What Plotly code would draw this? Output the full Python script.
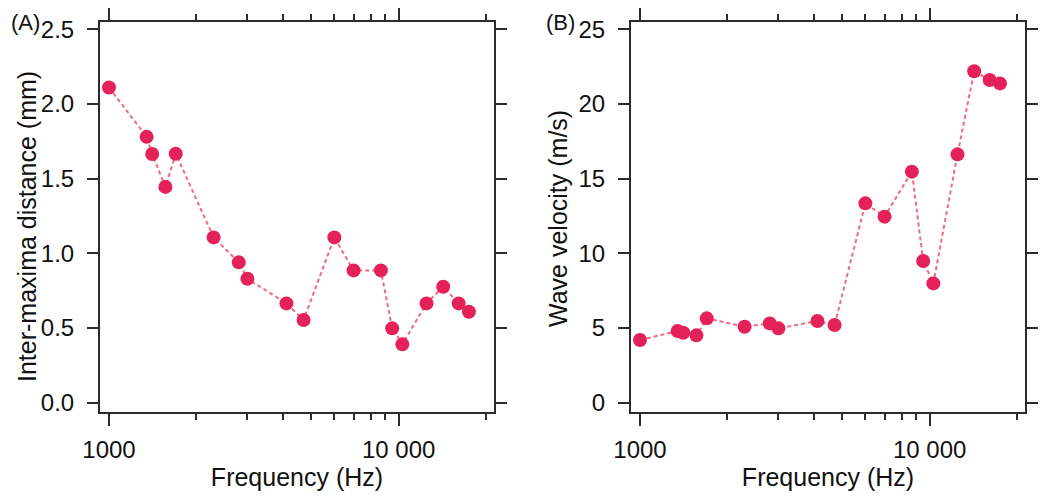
import plotly.graph_objects as go

freq = [1000, 1349, 1410, 1566, 1700, 2297, 2805, 3005, 4098, 4696,
        5998, 6986, 8680, 9496, 10295, 12475, 14243, 16110, 17480]
distance = [2.11, 1.78, 1.665, 1.445, 1.667, 1.107, 0.94, 0.83, 0.665, 0.554,
            1.107, 0.886, 0.886, 0.498, 0.391, 0.665, 0.777, 0.665, 0.609]
velocity = [4.2, 4.8, 4.69, 4.51, 5.65, 5.09, 5.31, 4.98, 5.47, 5.2,
            13.35, 12.46, 15.47, 9.49, 7.99, 16.63, 22.19, 21.61, 21.38]

x_major = [1000, 10000]
x_major_text = ["1000", "10 000"]
x_minor = [2000, 3000, 4000, 5000, 6000, 7000, 8000, 9000, 20000]
yA_ticks = [0.0, 0.5, 1.0, 1.5, 2.0, 2.5]
yA_text = ["0.0", "0.5", "1.0", "1.5", "2.0", "2.5"]
yB_ticks = [0, 5, 10, 15, 20, 25]

MARK = "#e5215a"
LINE = "#f06a84"
AX = "#2b2b2b"
FONT = "Liberation Sans, Arial, sans-serif"

# page body has an 8px margin; figure sized to fit inside the window
OFF = 8
W, H = 1050 - 2 * OFF, 504 - 2 * OFF

def px_x(p):
    return (p - OFF) / W

def px_y(p):
    return 1 - (p - OFF) / H

fig = go.Figure()
fig.add_trace(go.Scatter(x=freq, y=distance, mode="lines+markers",
                         line=dict(color=LINE, width=2, dash="4px,3px"),
                         marker=dict(color=MARK, size=14),
                         xaxis="x", yaxis="y", showlegend=False))
fig.add_trace(go.Scatter(x=freq, y=velocity, mode="lines+markers",
                         line=dict(color=LINE, width=2, dash="4px,3px"),
                         marker=dict(color=MARK, size=14),
                         xaxis="x2", yaxis="y2", showlegend=False))

def xax(domain, anchor):
    return dict(type="log", domain=domain, anchor=anchor,
                range=[2.969, 4.329], showgrid=False, zeroline=False,
                showline=True, linecolor=AX, linewidth=2, mirror="ticks",
                ticks="outside", ticklen=12, tickwidth=2, tickcolor=AX,
                tickmode="array", tickvals=x_major, ticktext=x_major_text,
                tickfont=dict(size=24, color="#111", family=FONT),
                ticklabelstandoff=3,
                minor=dict(tickmode="array", tickvals=x_minor, ticks="outside",
                           ticklen=6, tickwidth=2, tickcolor=AX, showgrid=False),
                title=dict(text="Frequency (Hz)", standoff=7,
                           font=dict(size=25, color="#111", family=FONT)),
                automargin=False)

def yax(domain, anchor, rng, tv, tt):
    return dict(domain=domain, anchor=anchor, range=rng, showgrid=False,
                zeroline=False, showline=True, linecolor=AX, linewidth=2,
                mirror="ticks", ticks="outside", ticklen=11, tickwidth=2,
                tickcolor=AX, tickmode="array", tickvals=tv, ticktext=tt,
                tickfont=dict(size=24, color="#111", family=FONT),
                ticklabelstandoff=8,
                automargin=False)

def label(text, xp, yp, size, angle=0):
    return dict(text=text, x=px_x(xp), y=px_y(yp), xref="paper", yref="paper",
                xanchor="center", yanchor="middle", showarrow=False,
                textangle=angle, font=dict(size=size, color="#111", family=FONT))

ydom = [px_y(412), px_y(22)]
fig.update_layout(
    width=W, height=H,
    margin=dict(l=0, r=0, t=0, b=0),
    paper_bgcolor="white", plot_bgcolor="white",
    xaxis=xax([px_x(100), px_x(494)], "y"),
    yaxis=yax(ydom, "x", [-0.062, 2.549], yA_ticks, yA_text),
    xaxis2=xax([px_x(631), px_x(1025)], "y2"),
    yaxis2=yax(ydom, "x2", [-0.62, 25.49], yB_ticks,
               [str(v) for v in yB_ticks]),
    font=dict(family=FONT, color="#111"),
    annotations=[
        label("(A)", 25, 23, 22),
        label("(B)", 560, 23, 22),
        label("Inter-maxima distance (mm)", 27, 227, 25, -90),
        label("Wave velocity (m/s)", 558, 219, 25, -90),
    ],
)

fig.write_html("out.html")
